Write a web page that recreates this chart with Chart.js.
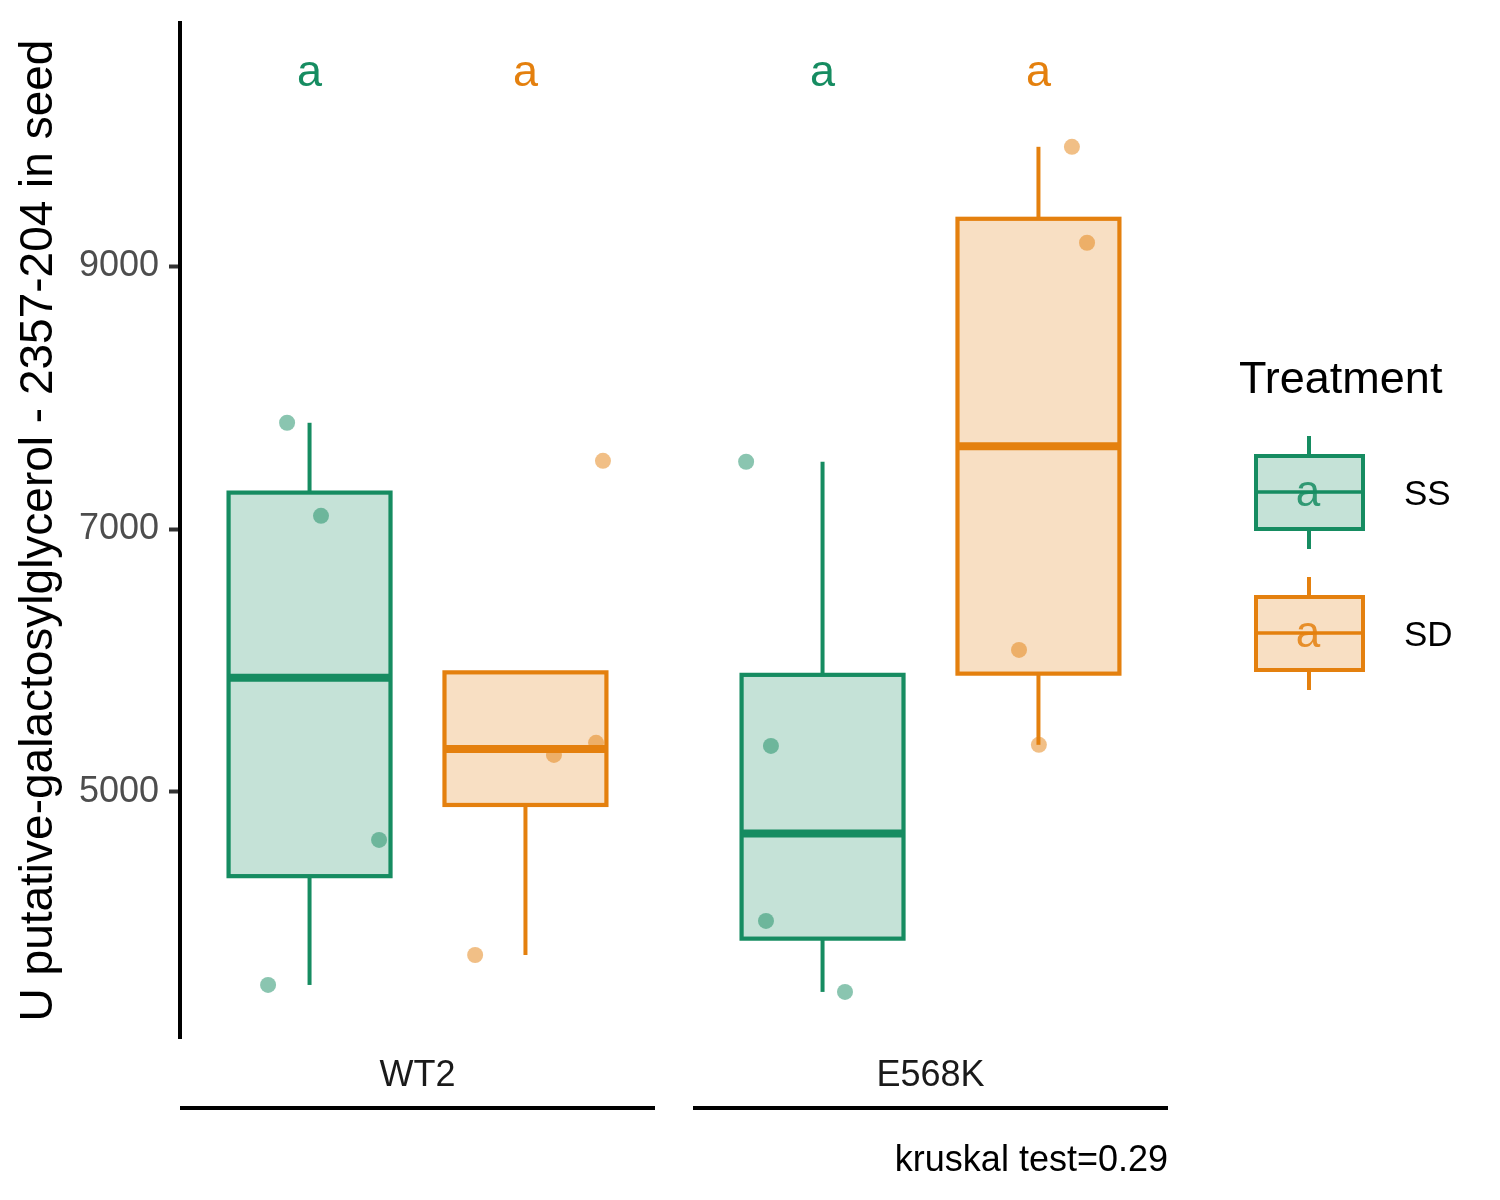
<!DOCTYPE html>
<html>
<head>
<meta charset="utf-8">
<title>U putative-galactosylglycerol - 2357-204 in seed</title>
<script src="https://cdn.jsdelivr.net/npm/chart.js@4.4.1/dist/chart.umd.min.js"></script>
<style>
  body { margin: 0; background: #fff; }
  #chartContainer { width: 1500px; height: 1200px; }
</style>
</head>
<body>
<div id="chartContainer"><canvas id="myChart" width="1500" height="1200"></canvas></div>
<script>
// values, 4 plants per group
const genotypes = ['WT2', 'E568K'];
const treatments = ['SS', 'SD'];
const wt2SS = [7810, 7101, 4633, 3528];
const wt2SD = [7520, 5372, 5280, 3756];
const e568kSS = [7513, 5349, 4016, 3475];
const e568kSD = [9912, 9181, 6080, 5357];

// horizontal jitter of the points (1 = distance between two boxes)
const jitWt2SS = [-0.104, 0.053, 0.322, -0.192];
const jitWt2SD = [0.359, 0.327, 0.132, -0.233];
const jitE568kSS = [-0.354, -0.239, -0.262, 0.104];
const jitE568kSD = [0.155, 0.225, -0.090, 0.002];

const letters = ['a', 'a', 'a', 'a'];
const letterLevel = 10470;
const yTicks = [5000, 7000, 9000];
const yTitle = 'U putative-galactosylglycerol - 2357-204 in seed';
const caption = 'kruskal test=0.29';

const FONT = "'Liberation Sans', Arial, Helvetica, sans-serif";
const lineCol = { SS: '#168C61', SD: '#E4800E' };
const fillCol = { SS: 'rgba(22,140,97,0.25)', SD: 'rgba(228,128,14,0.25)' };
const pointCol = { SS: 'rgba(22,140,97,0.5)', SD: 'rgba(228,128,14,0.5)' };

// facet layout in x units
const panelWidth = 2.2;
const panelGap = 0.176;
const boxWidth = 0.75;

const groups = [
  { geno: 0, treat: 0, values: wt2SS, jit: jitWt2SS },
  { geno: 0, treat: 1, values: wt2SD, jit: jitWt2SD },
  { geno: 1, treat: 0, values: e568kSS, jit: jitE568kSS },
  { geno: 1, treat: 1, values: e568kSD, jit: jitE568kSD }
];

function panelStart(geno) {
  return 0.4 + geno * (panelWidth + panelGap);
}

function center(g) {
  return panelStart(g.geno) + 0.6 + g.treat;
}

// quantile like R type 7
function quantile(sorted, p) {
  const h = (sorted.length - 1) * p;
  const lo = Math.floor(h);
  const hi = Math.min(lo + 1, sorted.length - 1);
  return sorted[lo] + (h - lo) * (sorted[hi] - sorted[lo]);
}

function boxStats(values) {
  const s = values.slice().sort((a, b) => a - b);
  const q1 = quantile(s, 0.25), q3 = quantile(s, 0.75);
  const iqr = q3 - q1;
  const inside = s.filter(v => v >= q1 - 1.5 * iqr && v <= q3 + 1.5 * iqr);
  return { q1: q1, med: quantile(s, 0.5), q3: q3, lo: inside[0], hi: inside[inside.length - 1] };
}

function line(ctx, x1, y1, x2, y2) {
  ctx.beginPath();
  ctx.moveTo(x1, y1);
  ctx.lineTo(x2, y2);
  ctx.stroke();
}

// boxes, letters, strips, caption and legend
const boxPlugin = {
  id: 'boxes',
  afterDatasetsDraw(chart) {
    const ctx = chart.ctx;
    const xs = chart.scales.x, ys = chart.scales.y;
    ctx.save();
    groups.forEach((g, i) => {
      const t = treatments[g.treat];
      const st = boxStats(g.values);
      const cx = xs.getPixelForValue(center(g));
      const x1 = xs.getPixelForValue(center(g) - boxWidth / 2);
      const x2 = xs.getPixelForValue(center(g) + boxWidth / 2);
      const yq1 = ys.getPixelForValue(st.q1);
      const yq3 = ys.getPixelForValue(st.q3);
      ctx.strokeStyle = lineCol[t];
      ctx.lineWidth = 4;
      ctx.lineCap = 'butt';
      if (st.hi > st.q3) line(ctx, cx, yq3, cx, ys.getPixelForValue(st.hi));
      if (st.lo < st.q1) line(ctx, cx, yq1, cx, ys.getPixelForValue(st.lo));
      ctx.fillStyle = fillCol[t];
      ctx.fillRect(x1, yq3, x2 - x1, yq1 - yq3);
      ctx.lineWidth = 4.2;
      ctx.strokeRect(x1, yq3, x2 - x1, yq1 - yq3);
      ctx.lineWidth = 8;
      const ym = ys.getPixelForValue(st.med);
      line(ctx, x1, ym, x2, ym);

      ctx.fillStyle = lineCol[t];
      ctx.font = '45px ' + FONT;
      ctx.textAlign = 'center';
      ctx.textBaseline = 'middle';
      ctx.fillText(letters[i], cx, ys.getPixelForValue(letterLevel));
    });
    ctx.restore();
  },
  afterDraw(chart) {
    const ctx = chart.ctx;
    const xs = chart.scales.x;
    const area = chart.chartArea;
    ctx.save();

    // facet strips under the panels
    genotypes.forEach((name, k) => {
      const left = xs.getPixelForValue(panelStart(k));
      const right = xs.getPixelForValue(panelStart(k) + panelWidth);
      ctx.strokeStyle = '#000';
      ctx.lineWidth = 4;
      line(ctx, left, 1108, right, 1108);
      ctx.fillStyle = '#1A1A1A';
      ctx.font = '36px ' + FONT;
      ctx.textAlign = 'center';
      ctx.textBaseline = 'middle';
      ctx.fillText(name, (left + right) / 2, 1076);
    });

    ctx.fillStyle = '#000';
    ctx.font = '36px ' + FONT;
    ctx.textAlign = 'right';
    ctx.fillText(caption, area.right, 1161);

    // legend
    ctx.textAlign = 'left';
    ctx.font = '45px ' + FONT;
    ctx.fillText('Treatment', 1239, 381);
    treatments.forEach((t, k) => {
      const top = 456 + k * 141;
      const cx = 1309;
      ctx.strokeStyle = lineCol[t];
      ctx.lineWidth = 4;
      line(ctx, cx, top - 20, cx, top);
      line(ctx, cx, top + 73, cx, top + 93);
      ctx.fillStyle = fillCol[t];
      ctx.fillRect(1256, top, 107, 73);
      ctx.strokeRect(1256, top, 107, 73);
      ctx.lineWidth = 3.5;
      line(ctx, 1256, top + 36, 1363, top + 36);
      ctx.fillStyle = lineCol[t];
      ctx.globalAlpha = 0.85;
      ctx.font = '44px ' + FONT;
      ctx.textAlign = 'center';
      ctx.fillText('a', 1308, top + 38);
      ctx.globalAlpha = 1;
      ctx.fillStyle = '#000';
      ctx.font = '35px ' + FONT;
      ctx.textAlign = 'left';
      ctx.fillText(t, 1404, top + 39);
    });
    ctx.restore();
  }
};

const datasets = groups.map(g => ({
  label: genotypes[g.geno] + ' ' + treatments[g.treat],
  data: g.values.map((v, j) => ({ x: center(g) + g.jit[j], y: v })),
  backgroundColor: pointCol[treatments[g.treat]],
  borderWidth: 0,
  pointRadius: 8
}));

const ctx = document.getElementById('myChart').getContext('2d');
const myChart = new Chart(ctx, {
  type: 'scatter',
  data: { datasets: datasets },
  options: {
    responsive: false,
    animation: false,
    layout: { padding: { left: 0, right: 332, top: 23, bottom: 162 } },
    plugins: { legend: { display: false }, tooltip: { enabled: false } },
    scales: {
      x: { type: 'linear', min: 0.4, max: panelStart(1) + panelWidth, display: false },
      y: {
        min: 3124,
        max: 10855,
        afterBuildTicks: scale => { scale.ticks = yTicks.map(v => ({ value: v })); },
        afterFit: scale => {
          scale.width = 180;
          scale.paddingTop = 0;
          scale.paddingBottom = 0;
        },
        ticks: {
          callback: v => String(v),
          color: '#4D4D4D',
          font: { family: FONT, size: 36, lineHeight: 1.1 },
          padding: 10
        },
        grid: {
          drawOnChartArea: false,
          drawTicks: true,
          tickLength: 11,
          tickWidth: 4,
          tickColor: '#333333'
        },
        border: { display: true, color: '#000', width: 4 },
        title: {
          display: true,
          text: yTitle,
          color: '#000',
          font: { family: FONT, size: 46 },
          padding: { top: 12, bottom: 0 }
        }
      }
    }
  },
  plugins: [boxPlugin]
});
</script>
</body>
</html>
